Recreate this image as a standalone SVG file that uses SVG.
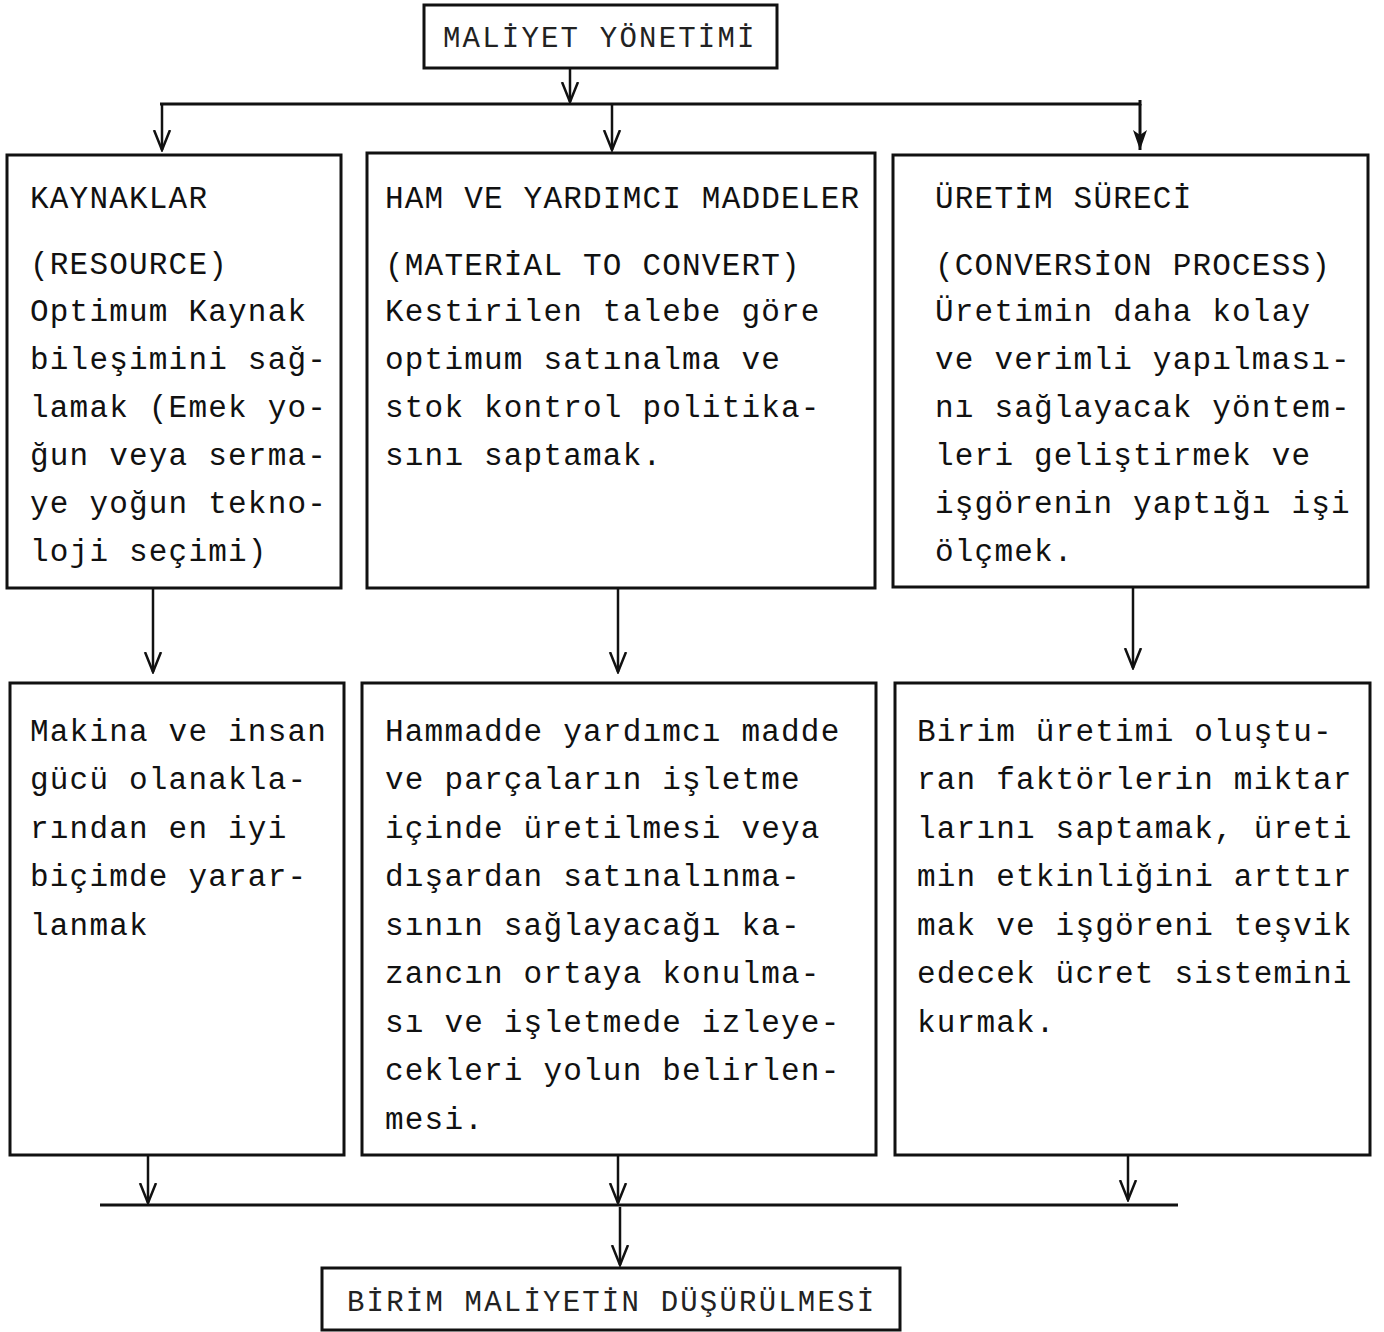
<svg xmlns="http://www.w3.org/2000/svg" width="1384" height="1332" viewBox="0 0 1384 1332">
  <style>
    .box { fill: #fff; stroke: #111; stroke-width: 3; }
    .ln { fill: none; stroke: #111; stroke-width: 3; }
    .ar { fill: none; stroke: #111; stroke-width: 2.5; marker-end: url(#vee); }
    .arf { fill: none; stroke: #111; stroke-width: 3; marker-end: url(#solid); }
    .t { font-family: "Liberation Mono", "DejaVu Sans Mono", monospace; font-size: 31px; letter-spacing: 1.2px; fill: #111; }
    .h { font-family: "Liberation Mono", "DejaVu Sans Mono", monospace; font-size: 29px; letter-spacing: 2.2px; fill: #222; }
  </style>
  <defs>
    <marker id="vee" markerUnits="userSpaceOnUse" viewBox="0 0 22 20" refX="20" refY="10" markerWidth="22" markerHeight="20" orient="auto">
      <path d="M0,2 L20,10 L0,18" fill="none" stroke="#111" stroke-width="2.5"/>
    </marker>
    <marker id="solid" markerUnits="userSpaceOnUse" viewBox="0 0 22 20" refX="20" refY="10" markerWidth="22" markerHeight="20" orient="auto">
      <path d="M0,3 L20,10 L0,17 L5,10 Z" fill="#111"/>
    </marker>
  </defs>
  <rect width="1384" height="1332" fill="#fff"/>

  <!-- connectors -->
  <g id="connectors">
    <path class="ar" d="M570,68 V102"/>
    <path class="ln" d="M160,104 H1140 V100"/>
    <path class="ar" d="M162,104 V150"/>
    <path class="ar" d="M612,104 V150"/>
    <path class="arf" d="M1140,104 V150"/>
    <path class="ar" d="M153,588 V672"/>
    <path class="ar" d="M618,588 V672"/>
    <path class="ar" d="M1133,588 V668"/>
    <path class="ar" d="M148,1155 V1203"/>
    <path class="ar" d="M618,1155 V1203"/>
    <path class="ar" d="M1128,1155 V1200"/>
    <path class="ln" d="M100,1205 H1178"/>
    <path class="ar" d="M620,1207 V1265"/>
  </g>

  <!-- top node -->
  <g id="maliyet-yonetimi">
    <rect class="box" x="424" y="5" width="353" height="63"/>
    <text class="h" x="443" y="47">MALİYET YÖNETİMİ</text>
  </g>

  <!-- first row -->
  <g id="kaynaklar">
    <rect class="box" x="7" y="155" width="334" height="433"/>
    <text class="t" x="30" y="208">KAYNAKLAR</text>
    <text class="t" x="30" y="274">(RESOURCE)</text>
    <text class="t" x="30" y="321">Optimum Kaynak</text>
    <text class="t" x="30" y="369">bileşimini sağ-</text>
    <text class="t" x="30" y="417">lamak (Emek yo-</text>
    <text class="t" x="30" y="465">ğun veya serma-</text>
    <text class="t" x="30" y="513">ye yoğun tekno-</text>
    <text class="t" x="30" y="561">loji seçimi)</text>
  </g>

  <g id="ham-maddeler">
    <rect class="box" x="367" y="153" width="508" height="435"/>
    <text class="t" x="385" y="208">HAM VE YARDIMCI MADDELER</text>
    <text class="t" x="385" y="275">(MATERİAL TO CONVERT)</text>
    <text class="t" x="385" y="321">Kestirilen talebe göre</text>
    <text class="t" x="385" y="369">optimum satınalma ve</text>
    <text class="t" x="385" y="417">stok kontrol politika-</text>
    <text class="t" x="385" y="465">sını saptamak.</text>
  </g>

  <g id="uretim-sureci">
    <rect class="box" x="893" y="155" width="475" height="432"/>
    <text class="t" x="935" y="208">ÜRETİM SÜRECİ</text>
    <text class="t" x="935" y="275">(CONVERSİON PROCESS)</text>
    <text class="t" x="935" y="321">Üretimin daha kolay</text>
    <text class="t" x="935" y="369">ve verimli yapılması-</text>
    <text class="t" x="935" y="417">nı sağlayacak yöntem-</text>
    <text class="t" x="935" y="465">leri geliştirmek ve</text>
    <text class="t" x="935" y="513">işgörenin yaptığı işi</text>
    <text class="t" x="935" y="561">ölçmek.</text>
  </g>

  <!-- second row -->
  <g id="makina-insan">
    <rect class="box" x="10" y="683" width="334" height="472"/>
    <text class="t" x="30" y="741">Makina ve insan</text>
    <text class="t" x="30" y="789">gücü olanakla-</text>
    <text class="t" x="30" y="838">rından en iyi</text>
    <text class="t" x="30" y="886">biçimde yarar-</text>
    <text class="t" x="30" y="935">lanmak</text>
  </g>

  <g id="hammadde">
    <rect class="box" x="362" y="683" width="514" height="472"/>
    <text class="t" x="385" y="741">Hammadde yardımcı madde</text>
    <text class="t" x="385" y="789">ve parçaların işletme</text>
    <text class="t" x="385" y="838">içinde üretilmesi veya</text>
    <text class="t" x="385" y="886">dışardan satınalınma-</text>
    <text class="t" x="385" y="935">sının sağlayacağı ka-</text>
    <text class="t" x="385" y="983">zancın ortaya konulma-</text>
    <text class="t" x="385" y="1032">sı ve işletmede izleye-</text>
    <text class="t" x="385" y="1080">cekleri yolun belirlen-</text>
    <text class="t" x="385" y="1129">mesi.</text>
  </g>

  <g id="birim-uretimi">
    <rect class="box" x="895" y="683" width="475" height="472"/>
    <text class="t" x="917" y="741">Birim üretimi oluştu-</text>
    <text class="t" x="917" y="789">ran faktörlerin miktar</text>
    <text class="t" x="917" y="838">larını saptamak, üreti</text>
    <text class="t" x="917" y="886">min etkinliğini arttır</text>
    <text class="t" x="917" y="935">mak ve işgöreni teşvik</text>
    <text class="t" x="917" y="983">edecek ücret sistemini</text>
    <text class="t" x="917" y="1032">kurmak.</text>
  </g>

  <!-- result node -->
  <g id="birim-maliyet">
    <rect class="box" x="322" y="1268" width="578" height="62"/>
    <text class="h" x="347" y="1311">BİRİM MALİYETİN DÜŞÜRÜLMESİ</text>
  </g>
</svg>
